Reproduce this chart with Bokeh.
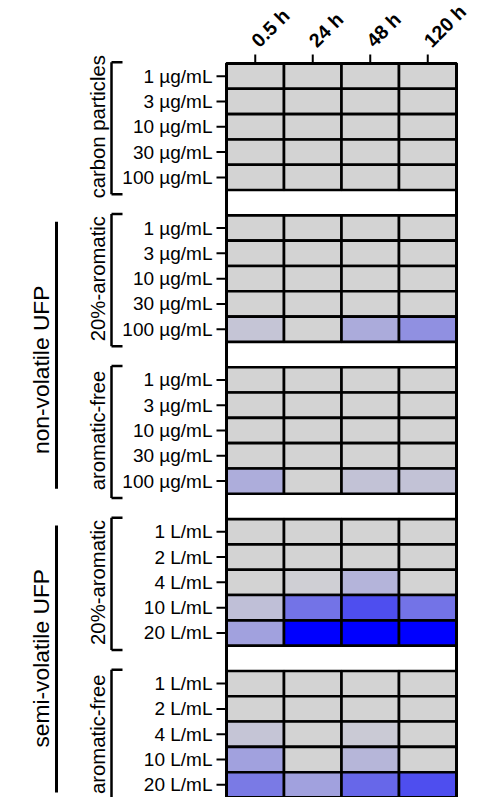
import numpy as np
from bokeh.plotting import figure
from bokeh.models import Range1d, LinearColorMapper, ColumnDataSource
from bokeh.embed import file_html
from bokeh.resources import INLINE
from bokeh.core.properties import value

# ---------------- data ----------------
times = ["0.5 h", "24 h", "48 h", "120 h"]
group_names = ["carbon particles", "20%-aromatic", "aromatic-free",
               "20%-aromatic", "aromatic-free"]
class_names = ["non-volatile UFP", "semi-volatile UFP"]
class_members = [[1, 2], [3, 4]]
ug_doses = ["1 µg/mL", "3 µg/mL", "10 µg/mL", "30 µg/mL", "100 µg/mL"]
l_doses = ["1 L/mL", "2 L/mL", "4 L/mL", "10 L/mL", "20 L/mL"]
group_doses = [ug_doses, ug_doses, ug_doses, l_doses, l_doses]

# response intensity (0 = none, 1 = max); rows = doses, cols = times
carbon_particles = [[0, 0, 0, 0],
                    [0, 0, 0, 0],
                    [0, 0, 0, 0],
                    [0, 0, 0, 0],
                    [0, 0, 0, 0]]
nonvol_aromatic = [[0, 0, 0, 0],
                   [0, 0, 0, 0],
                   [0, 0, 0, 0],
                   [0, 0, 0, 0],
                   [0.07, 0, 0.19, 0.32]]
nonvol_arom_free = [[0, 0, 0, 0],
                    [0, 0, 0, 0],
                    [0, 0, 0, 0],
                    [0, 0, 0, 0],
                    [0.18, 0, 0.08, 0.08]]
semivol_aromatic = [[0, 0, 0, 0],
                    [0, 0, 0, 0],
                    [0, 0.02, 0.15, 0],
                    [0.095, 0.455, 0.63, 0.455],
                    [0.24, 1.0, 1.0, 1.0]]
semivol_arom_free = [[0, 0, 0, 0],
                     [0, 0, 0, 0],
                     [0.07, 0, 0.045, 0],
                     [0.24, 0, 0.14, 0],
                     [0.42, 0.24, 0.51, 0.63]]
group_values = [carbon_particles, nonvol_aromatic, nonvol_arom_free,
                semivol_aromatic, semivol_arom_free]

# ---------------- layout (pixel geometry of the canvas) ----------------
FONT = "Liberation Sans"
W, H = 487, 797
GRID_L, GRID_R, GRID_T = 226, 456, 63
STEP = 6                       # 5 dose rows + 1 blank row per group
n_rows = len(group_names) * STEP - 1
n_cols = len(times)
COL_PX = (GRID_R - GRID_L) / n_cols
ROW_PX = (H - GRID_T) / n_rows


def fx(px):   # canvas x pixel -> data x
    return (px - GRID_L) / COL_PX


def fy(px):   # canvas y pixel -> data y (rows, downwards)
    return (px - GRID_T) / ROW_PX


# palette from grey to blue
lo = np.array([211, 211, 211])
hi = np.array([0, 0, 255])
palette = ["#%02x%02x%02x" % tuple(np.round(lo + (hi - lo) * t).astype(int))
           for t in np.linspace(0, 1, 256)]
mapper = LinearColorMapper(palette=palette, low=0, high=1)

xs, ys, vals = [], [], []
tick_pos, tick_labels = [], []
for g, mat in enumerate(group_values):
    for d, rowvals in enumerate(mat):
        r = g * STEP + d + 0.5
        tick_pos.append(r)
        tick_labels.append(group_doses[g][d])
        for c, v in enumerate(rowvals):
            xs.append(c + 0.5)
            ys.append(r)
            vals.append(v)
src = ColumnDataSource(dict(x=xs, y=ys, v=vals))

p = figure(width=W, height=H,
           x_range=Range1d(fx(0), fx(W)), y_range=Range1d(fy(H), fy(0)),
           x_axis_location=None, y_axis_location=None,
           output_backend="svg", toolbar_location=None,
           min_border=0)
p.grid.visible = False
p.outline_line_color = None

# heatmap cells
p.rect("x", "y", width=1, height=1, source=src,
       fill_color={"field": "v", "transform": mapper},
       line_color="black", line_width=2.6)
# outer border of the grid (also closes the blank rows)
p.rect(x=[n_cols / 2], y=[n_rows / 2], width=n_cols, height=n_rows,
       fill_color=None, line_color="black", line_width=3)

# left ticks + dose labels
p.segment(x0=[0] * len(tick_pos), y0=tick_pos,
          x1=[fx(GRID_L - 10)] * len(tick_pos), y1=tick_pos,
          line_color="black", line_width=2)
p.text(x=[fx(GRID_L - 14)] * len(tick_pos), y=tick_pos, text=tick_labels,
       text_align="right", text_baseline="middle", text_font=value(FONT),
       text_font_size="19px", text_color="black")

# top ticks + time labels
col_pos = [i + 0.5 for i in range(n_cols)]
p.segment(x0=col_pos, y0=[0] * n_cols, x1=col_pos, y1=[fy(GRID_T - 9)] * n_cols,
          line_color="black", line_width=2)
p.text(x=[c - 0.01 for c in col_pos], y=[fy(GRID_T - 20)] * n_cols, text=times,
       angle=np.pi / 4, text_align="left", text_baseline="middle",
       text_font=value(FONT), text_font_size="19.5px",
       text_font_style="bold", text_color="black")

# group brackets and labels
BX, SX = fx(111), fx(122)
g_top = [g * STEP - 0.05 for g in range(len(group_names))]
g_bot = [g * STEP + 5.17 for g in range(len(group_names))]
ng = len(group_names)
p.segment(x0=[BX] * ng, y0=g_top, x1=[BX] * ng, y1=g_bot,
          line_color="black", line_width=2.5)
p.segment(x0=[BX] * ng, y0=g_top, x1=[SX] * ng, y1=g_top,
          line_color="black", line_width=2.5)
p.segment(x0=[BX] * ng, y0=g_bot, x1=[SX] * ng, y1=g_bot,
          line_color="black", line_width=2.5)
p.text(x=[fx(97)] * ng, y=[g * STEP + 2.5 for g in range(ng)],
       text=group_names, angle=np.pi / 2, text_align="center",
       text_baseline="middle", text_font=value(FONT), text_font_size="20.3px",
       text_color="black")

# class lines and labels
c_top = [m[0] * STEP + 0.25 for m in class_members]
c_bot = [m[-1] * STEP + 5 - 0.2 for m in class_members]
p.segment(x0=[fx(56)] * 2, y0=c_top, x1=[fx(56)] * 2, y1=c_bot,
          line_color="black", line_width=3)
text_shift = [0.6, 0.0]
c_mid = [(m[0] * STEP + m[-1] * STEP + 5) / 2 + s
         for m, s in zip(class_members, text_shift)]
p.text(x=[fx(40)] * 2, y=c_mid, text=class_names, angle=np.pi / 2,
       text_align="center", text_baseline="middle", text_font=value(FONT),
       text_font_size="22.8px", text_color="black")

open("out.html", "w").write(file_html(p, INLINE))
